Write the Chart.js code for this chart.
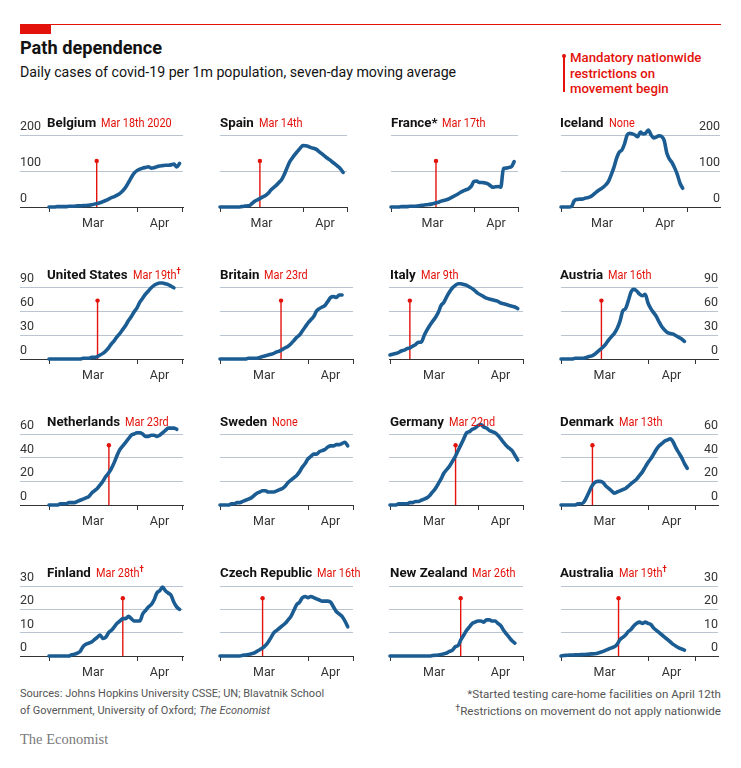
<!DOCTYPE html>
<html><head><meta charset="utf-8">
<script src="https://cdn.jsdelivr.net/npm/chart.js@4.4.1/dist/chart.umd.min.js"></script>
<style>
html,body{margin:0;padding:0;background:#fff;}
body{width:741px;height:768px;position:relative;overflow:hidden;font-family:Roboto,'Liberation Sans',sans-serif;color:#121212;}
.abs{position:absolute;white-space:nowrap;}
.ptitle{font-weight:700;font-size:13.3px;line-height:16px;}
.pdate{display:inline-block;font-weight:400;font-size:12.5px;line-height:16px;color:#e3120b;transform:scaleX(0.87);transform-origin:0 50%;margin-left:1px;}
.pdate sup{font-size:9px;font-weight:700;vertical-align:5px;line-height:0;}
</style></head><body>
<div class="abs" style="left:20px;top:24px;width:701px;height:1px;background:#e3120b"></div>
<div class="abs" style="left:20px;top:24px;width:31px;height:10px;background:#e3120b"></div>
<div class="abs" style="left:20px;top:37px;font-size:18.2px;font-weight:700;line-height:22px;">Path dependence</div>
<div class="abs" style="left:20px;top:63px;font-size:14.2px;line-height:18px;">Daily cases of covid-19 per 1m population, seven-day moving average</div>
<div class="abs" style="left:563px;top:56px;width:1.5px;height:36px;background:#e3120b"></div>
<div class="abs" style="left:561.5px;top:53.5px;width:4px;height:4px;border-radius:2px;background:#e3120b"></div>
<div class="abs" style="left:570px;top:50px;font-size:13.2px;font-weight:500;line-height:15.7px;color:#e3120b;">Mandatory nationwide<br>restrictions on<br>movement begin</div>
<div class="abs" style="left:20px;top:686px;font-size:11px;line-height:16.5px;color:#555;">Sources: Johns Hopkins University CSSE; UN; Blavatnik School<br>of Government, University of Oxford; <i>The Economist</i></div>
<div class="abs" style="right:20px;top:686px;font-size:11.6px;line-height:16.5px;color:#555;text-align:right;">*Started testing care-home facilities on April 12th<br><sup style="font-size:9px;vertical-align:4px;line-height:0">†</sup>Restrictions on movement do not apply nationwide</div>
<div class="abs" style="left:20px;top:730px;font-size:14.5px;line-height:18px;color:#7a7a7a;font-family:'Liberation Serif','DejaVu Serif',serif;">The Economist</div>
<div id="panels"></div>
<script>
// ---------------- data ----------------
const countries = ['Belgium','Spain','France*','Iceland','United States','Britain','Italy','Austria','Netherlands','Sweden','Germany','Denmark','Finland','Czech Republic','New Zealand','Australia'];
const restrictionLabels = ['Mar 18th 2020','Mar 14th','Mar 17th','None','Mar 19th\u2020','Mar 23rd','Mar 9th','Mar 16th','Mar 23rd','None','Mar 22nd','Mar 13th','Mar 28th\u2020','Mar 16th','Mar 26th','Mar 19th\u2020'];
// restriction start, in days after March 1st (null = none)
const restrictionDay = [16.8,14.9,16.8,null,17.1,21.5,7.0,14.4,21.1,null,23.1,11.2,26.0,15.0,24.9,20.5];
const monthLabels = ['', 'Mar', '', 'Apr', ''];
const yTicksByRow = [[0,100,200],[0,30,60,90],[0,20,40,60],[0,10,20,30]];
// daily values from March 1st
const belgium = [0,0,0,1,1,1,1,2,2,2,3,3,4,4,5,6,8,10,12,15,18,22,26,29,33,38,45,55,68,82,94,101,105,108,110,112,108,109,112,114,115,116,116,117,119,111,121];
const spain = [0,0,0,0,0,0,0,0,1,2,3,4,10,16,20,24,28,32,38,47,54,60,68,76,90,108,125,136,146,155,164,171,170,168,165,163,160,154,148,142,136,131,125,119,113,106,96];
const france = [0,0,0,0,1,1,1,2,2,2,3,4,5,6,7,8,10,12,14,17,19,21,24,28,32,36,41,45,48,51,58,71,72,68,68,67,65,60,55,56,57,55,107,108,110,112,126];
const iceland = [0,0,0,0,2,17,21,22,22,24,26,28,33,39,45,50,55,62,72,90,110,135,152,158,175,200,205,203,200,195,208,203,205,214,201,192,194,198,196,185,150,133,123,108,90,66,52];
const unitedStates = [0,0,0,0,0,0,0,0,0,0,0,0,1,1,1,2,2,3,5,7,10,14,19,23,28,32,37,42,48,53,59,64,71,76,81,85,89,92,94,95,95,94,93,91,89];
const britain = [0,0,0,0,0,0,0,0,0,0,1,1,1,1,2,3,4,5,6,7,9,10,12,14,16,19,23,27,30,35,40,45,49,53,60,63,65,67,72,77,78,77,80,80];
const italy = [5,6,7,8,10,11,13,14,16,18,21,21,29,36,42,47,52,58,67,71,78,84,89,92,94,94,93,92,90,88,85,82,80,78,76,75,74,73,72,70,69,68,67,66,65,63];
const austria = [0,0,0,0,0,1,1,1,1,2,3,4,6,9,12,15,19,24,28,32,38,47,60,63,73,84,87,85,81,79,81,70,63,58,53,46,40,36,33,32,31,29,27,25,22];
const netherlands = [0,0,0,0,1,1,1,2,2,2,3,4,5,6,7,10,12,14,17,20,24,27,31,36,42,47,50,53,56,59,60,61,61,60,58,58,59,59,58,59,61,63,65,65,65,64];
const sweden = [0,0,0,0,1,1,2,2,3,4,5,6,8,10,11,12,12,11,11,11,12,13,14,16,19,21,23,25,28,32,35,39,41,43,43,45,46,47,49,50,50,51,51,52,53,50];
const germany = [0,0,0,1,1,1,1,2,2,3,3,4,5,6,8,11,14,18,22,27,30,33,37,41,46,51,56,61,62,64,65,67,68,66,65,63,62,61,59,56,53,50,48,46,42,38];
const denmark = [0,0,0,0,0,0,1,1,2,6,11,16,19,20,20,19,16,14,12,10,11,12,13,14,16,18,20,22,25,28,32,36,39,43,47,50,52,54,55,56,53,48,44,40,35,31];
const finland = [0,0,0,0,0,0,0,0,0.5,0.8,1.2,2,4,5,5.5,6,7,8,9,7.5,8,10,11,12.5,14,15,16,16,17,16,15,15,15,18,19.5,21,22,24,27,28,29.5,28,27,26,23,21,20];
const czechRepublic = [0,0,0,0,0,0,0,0,0.3,0.4,0.6,1,1.3,2,2.7,3.4,4.5,6,8,10,11,12,13,14,15.5,17,19.5,22,23,25,25.5,25,25.5,25,24.5,24,23.5,23.5,23.5,23,21,19,18,17,15,12.5];
const newZealand = [0,0,0,0,0,0,0,0,0,0,0,0,0,0,0,0.2,0.3,0.4,0.6,1,1.3,2,2.5,4,4.5,7,9,11,12.5,14,14.5,15,15,14.5,15.5,15.5,15,15,14,13,11,9.5,8,6.5,5.5];
const australia = [0,0.2,0.3,0.4,0.4,0.5,0.5,0.6,0.6,0.7,0.8,0.9,1,1.2,1.6,2,2.5,3,3.5,4,5,7,8,9,10.5,11.5,13,14,14.5,14,14.5,14,13.5,12,11,10,9,8,7,6,5,4.2,3.5,3,2.5];
const series = [belgium,spain,france,iceland,unitedStates,britain,italy,austria,netherlands,sweden,germany,denmark,finland,czechRepublic,newZealand,australia];

// ---------------- layout (pixels) ----------------
const colGeomRow1 = [
  {L:20,R:183,x0:49,x31:137,xe:182,tx:47},
  {L:220,R:347,x0:220,x31:303,xe:347,tx:220},
  {L:391,R:518,x0:391,x31:474,xe:518,tx:391},
  {L:561,R:720,x0:561,x31:643,xe:687,tx:560}];
const colGeomRest = [
  {L:20,R:183,x0:49,x31:137,xe:182,tx:47},
  {L:220,R:353,x0:220,x31:308,xe:353,tx:220},
  {L:389,R:523,x0:390,x31:478,xe:523,tx:390},
  {L:561,R:718,x0:561,x31:648,xe:695,tx:560}];
const rowGeom = [
  {top:135,base:207,title:120,markTop:128},
  {top:287,base:359,title:272,markTop:73},
  {top:434,base:505,title:419,markTop:50.5},
  {top:586,base:656,title:570,markTop:24.8}];
const BLUE = '#1b5d93', RED = '#e3120b', GRID = '#b9c6d1', AXIS = '#333333';
const TICKFONT = {family:"Roboto, sans-serif", size:12.5, lineHeight:'16px'};

const host = document.getElementById('panels');
series.forEach((vals, i) => {
  const r = Math.floor(i/4), c = i%4;
  const cg = (r === 0 ? colGeomRow1 : colGeomRest)[c];
  const rg = rowGeom[r];
  const yt = yTicksByRow[r];
  const ppd = (cg.x31 - cg.x0)/31;
  const xmin = (cg.L - cg.x0)/ppd, xmax = (cg.R - cg.x0)/ppd, xend = (cg.xe - cg.x0)/ppd;
  const tickVals = [0, 15.5, 31, (31 + xend)/2, xend];
  const M = 6, padTop = 24, padBottom = 2, tickPad = 4, tickLen = 5;
  const axisH = tickLen + 16 + 2*tickPad;
  const top = rg.top - padTop;
  const H = rg.base - top + axisH + padBottom;
  const W = cg.R - cg.L + 2*M;

  const cv = document.createElement('canvas');
  cv.width = W; cv.height = H;
  cv.style.cssText = `position:absolute;left:${cg.L - M}px;top:${top}px;width:${W}px;height:${H}px;`;
  host.appendChild(cv);

  // title
  const t = document.createElement('div');
  t.className = 'abs';
  t.style.left = cg.tx + 'px';
  t.style.top = (rg.title - 8) + 'px';
  const lab = restrictionLabels[i];
  const dag = lab.endsWith('\u2020');
  t.innerHTML = `<span class="ptitle">${countries[i]}</span> <span class="pdate">${dag ? lab.slice(0,-1) + '<sup>\u2020</sup>' : lab}</span>`;
  host.appendChild(t);

  const datasets = [{
    data: vals.map((v, d) => ({x: d, y: v})),
    borderColor: BLUE, borderWidth: 3.6, pointRadius: 0, tension: 0.3,
    cubicInterpolationMode: 'monotone', borderCapStyle: 'round', borderJoinStyle: 'round', clip: false
  }];
  if (restrictionDay[i] !== null) {
    datasets.push({
      data: [{x: restrictionDay[i], y: 0}, {x: restrictionDay[i], y: rg.markTop}],
      borderColor: RED, borderWidth: 1.4, pointRadius: [0, 2.2], pointBackgroundColor: RED,
      pointBorderWidth: 0, clip: false
    });
  }

  new Chart(cv, {
    type: 'line',
    data: {datasets},
    options: {
      responsive: false, animation: false, events: [],
      layout: {padding: {left: M, right: M, top: padTop, bottom: padBottom}},
      plugins: {legend: {display: false}, tooltip: {enabled: false}},
      scales: {
        x: {
          type: 'linear', min: xmin, max: xmax,
          afterBuildTicks: s => { s.ticks = tickVals.map(v => ({value: v})); },
          ticks: {autoSkip: false, maxRotation: 0, minRotation: 0, padding: tickPad, color: AXIS, font: TICKFONT,
                  callback: (v, idx) => monthLabels[idx]},
          grid: {drawOnChartArea: false, drawTicks: true, tickLength: tickLen, tickWidth: 1,
                 tickColor: ctx => (ctx.index % 2 === 1) ? 'rgba(0,0,0,0)' : AXIS},
          border: {display: true, color: AXIS, width: 1}
        },
        y: {
          type: 'linear', position: c === 3 ? 'right' : 'left', min: 0, max: yt[yt.length-1],
          afterBuildTicks: s => { s.ticks = yt.map(v => ({value: v})); },
          ticks: {display: c === 0 || c === 3, mirror: true, padding: 0, labelOffset: -8, crossAlign: 'near',
                  color: AXIS, font: TICKFONT},
          grid: {drawTicks: false, lineWidth: 1, color: ctx => (ctx.tick && ctx.tick.value === 0) ? 'rgba(0,0,0,0)' : GRID},
          border: {display: false}
        }
      }
    }
  });
});
</script>
</body></html>
